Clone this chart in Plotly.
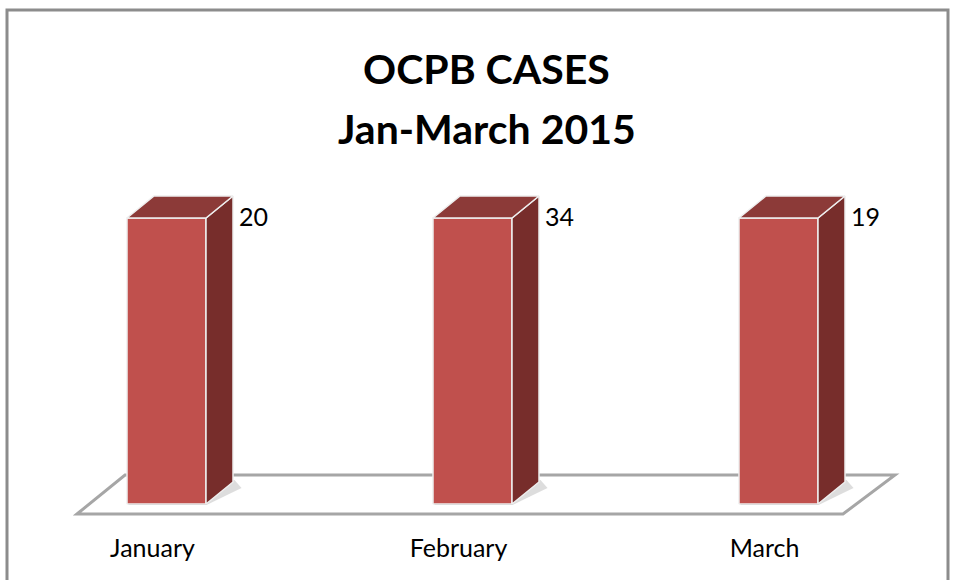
import plotly.graph_objects as go

# ---- data ----
categories = ["January", "February", "March"]
cases = [20, 34, 19]
title_lines = ["OCPB CASES", "Jan-March 2015"]

# ---- geometry / style ----
FIG_W, FIG_H = 954, 580
M_L, M_R, M_T, M_B = 0, 0, 0, 76
PW = FIG_W - M_L - M_R
PH = FIG_H - M_T - M_B
CAT_PX = 306.0            # pixels per category
FIRST_PX = 166.5          # pixel centre of first bar
BAR_W = 79 / CAT_PX       # bar width in category units
FILL_FRAC = (504 - 218) / PH  # fraction of plot height each bar fills
DEPTH_X = 27 / CAT_PX
DEPTH_YPX = 22

FRONT = "#C0504D"
TOP = "#8C3A38"
SIDE = "#772D2B"
EDGE = "#EEEEEE"
FONT = "Lato"

x_lo = -FIRST_PX / CAT_PX
x_hi = (PW - FIRST_PX) / CAT_PX

fig = go.Figure()

layout_axes = {}
for i, (cat, v) in enumerate(zip(categories, cases)):
    ax = "y" if i == 0 else f"y{i+1}"
    ymax = v / FILL_FRAC
    dy = DEPTH_YPX / PH * ymax
    x0, x1 = i - BAR_W / 2, i + BAR_W / 2
    # side face
    fig.add_trace(go.Scatter(
        x=[x1, x1, x1 + DEPTH_X, x1 + DEPTH_X, x1],
        y=[0, v, v + dy, dy, 0],
        yaxis=ax, mode="lines", fill="toself", fillcolor=SIDE,
        line=dict(color=EDGE, width=1.5), hoverinfo="skip", showlegend=False))
    # top face
    fig.add_trace(go.Scatter(
        x=[x0, x1, x1 + DEPTH_X, x0 + DEPTH_X, x0],
        y=[v, v, v + dy, v + dy, v],
        yaxis=ax, mode="lines", fill="toself", fillcolor=TOP,
        line=dict(color=EDGE, width=1.5), hoverinfo="skip", showlegend=False))
    # front face
    fig.add_trace(go.Bar(
        x=[i], y=[v], width=BAR_W, yaxis=ax, name=cat,
        marker=dict(color=FRONT, line=dict(color=EDGE, width=1.5)),
        showlegend=False))
    # value label
    fig.add_annotation(
        x=i, y=v, xref="x", yref=ax, text=str(v), showarrow=False,
        xshift=87, yshift=2, font=dict(family=FONT, size=25, color="black"))
    key = "yaxis" if i == 0 else f"yaxis{i+1}"
    cfg = dict(range=[0, ymax], visible=False, showgrid=False, zeroline=False,
               fixedrange=True)
    if i > 0:
        cfg["overlaying"] = "y"
    layout_axes[key] = cfg


def px_x(p):
    return (p - M_L) / PW


def px_y(p):
    return (FIG_H - M_B - p) / PH


shapes = []
# floor
floor_pts = [(77, 514), (125, 475), (895, 475), (843, 514)]
path = "M " + " L ".join(f"{px_x(x)},{px_y(y)}" for x, y in floor_pts) + " Z"
shapes.append(dict(type="path", path=path, xref="paper", yref="paper",
                   fillcolor="white", line=dict(color="#A6A6A6", width=3),
                   layer="below"))
# bar base shadows
for i in range(len(categories)):
    cx = FIRST_PX + CAT_PX * i
    sh = [(cx - 40, 505), (cx + 40, 505), (cx + 75, 488), (cx + 68, 480), (cx + 30, 480)]
    p = "M " + " L ".join(f"{px_x(x)},{px_y(y)}" for x, y in sh) + " Z"
    shapes.append(dict(type="path", path=p, xref="paper", yref="paper",
                       fillcolor="rgba(120,120,120,0.25)", line=dict(width=0),
                       layer="below"))
# outer border
shapes.append(dict(type="rect", xref="paper", yref="paper",
                   x0=px_x(7), x1=px_x(948), y0=px_y(600), y1=px_y(10),
                   line=dict(color="#8C8C8C", width=3), fillcolor="rgba(0,0,0,0)",
                   layer="above"))

# title
for j, (t, ypx) in enumerate(zip(title_lines, [69, 128])):
    fig.add_annotation(text=f"<b>{t}</b>", xref="paper", yref="paper",
                       x=px_x(487), y=px_y(ypx), showarrow=False,
                       xanchor="center", yanchor="middle",
                       font=dict(family=FONT, size=41, color="black"))

fig.update_layout(
    width=FIG_W, height=FIG_H, autosize=False,
    margin=dict(l=M_L, r=M_R, t=M_T, b=M_B, pad=0),
    paper_bgcolor="white", plot_bgcolor="rgba(0,0,0,0)",
    barmode="overlay", showlegend=False,
    xaxis=dict(range=[x_lo, x_hi], tickmode="array",
               tickvals=list(range(len(categories))), ticktext=categories,
               showgrid=False, zeroline=False, showline=False, ticks="",
               ticklabelshift=-14, ticklabelstandoff=27,
               tickfont=dict(family=FONT, size=25, color="black"),
               fixedrange=True),
    shapes=shapes,
    **layout_axes,
)

fig.write_html(
    "out.html",
    config={"displayModeBar": False},
    post_script="document.body.style.margin='0';document.body.style.overflow='hidden';",
)
